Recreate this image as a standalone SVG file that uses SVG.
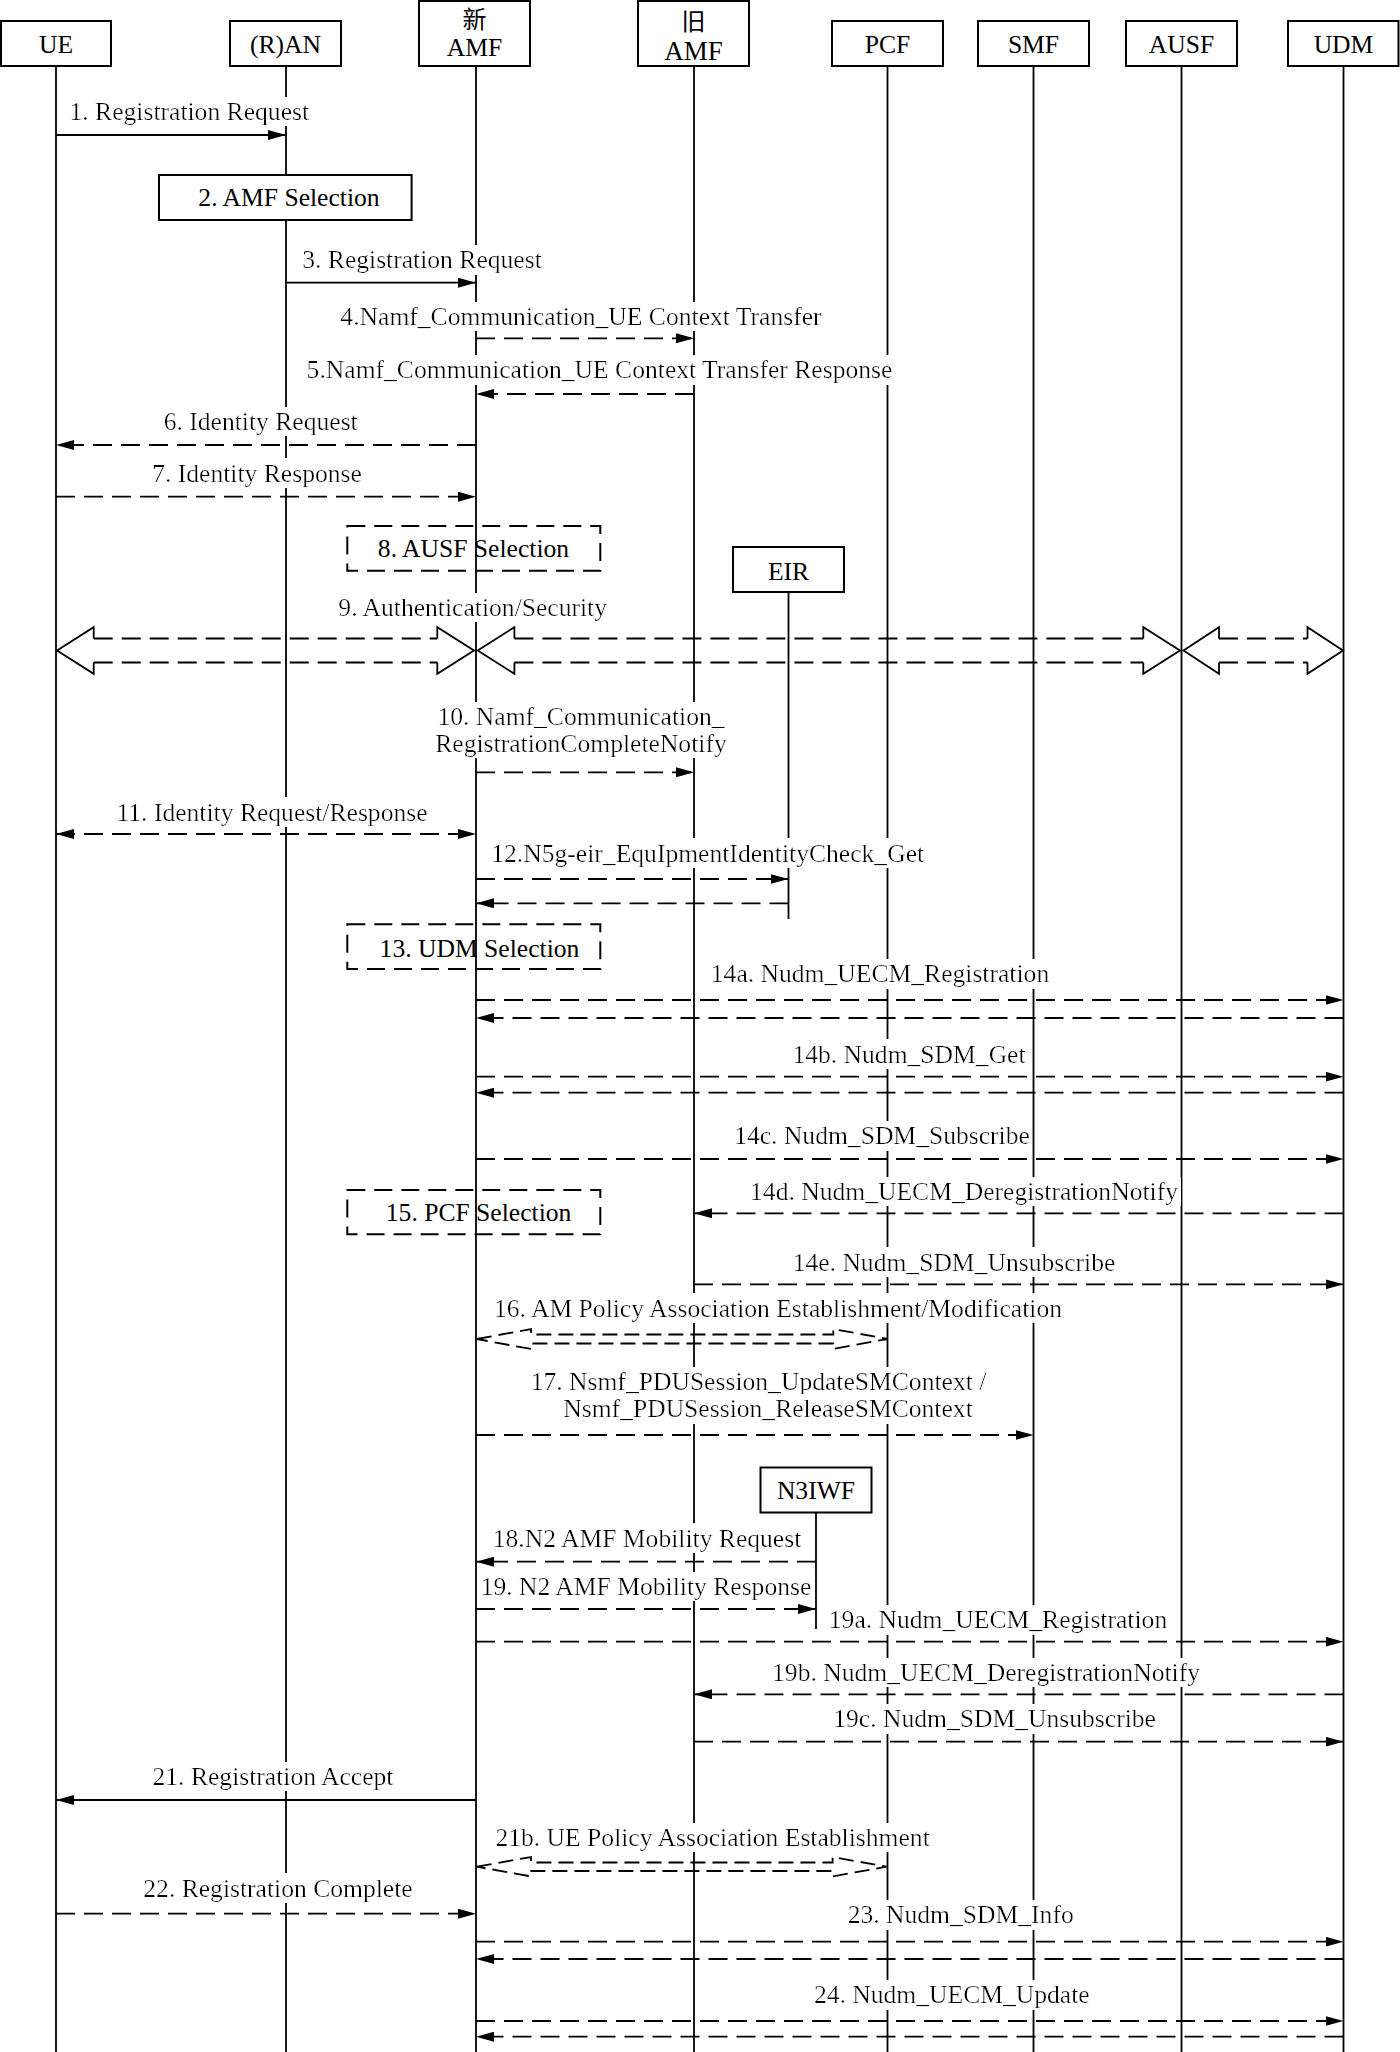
<svg xmlns="http://www.w3.org/2000/svg" width="1400" height="2052" viewBox="0 0 1400 2052">
<style>
.lf{stroke:#000;stroke-width:1.8;fill:none}
.box{fill:#fff;stroke:#000;stroke-width:2}
.dbox{fill:none;stroke:#000;stroke-width:2;stroke-dasharray:18 9}
.t{font-family:"Liberation Serif","Times New Roman",serif;font-size:25.6px;text-anchor:middle;fill:#000}
.cjk{font-family:"Liberation Serif","Noto Sans CJK SC",serif;font-size:24px;text-anchor:middle;fill:#000}
.lbl{filter:url(#bg)}
.m{stroke:#000;stroke-width:1.8;fill:none}
.e{marker-end:url(#ah)}
.s{marker-start:url(#ah)}
.d{stroke-dasharray:19 9}
.hd{stroke:#000;stroke-width:1.8;fill:none;stroke-linejoin:miter}
.blk{stroke:#000;stroke-width:1.8;fill:none;stroke-dasharray:19 9}
.blk2{stroke:#000;stroke-width:1.8;fill:none;stroke-dasharray:15 7}
</style>
<defs>
<filter id="bg" x="-0.005" y="0" width="1.01" height="1"><feFlood flood-color="#fff" result="f"/><feComposite in="SourceGraphic" in2="f" operator="over"/></filter>
<marker id="ah" viewBox="0 0 18 10" refX="18" refY="5" markerWidth="18" markerHeight="10" markerUnits="userSpaceOnUse" orient="auto-start-reverse"><path d="M0,0 L18,5 L0,10 Z" fill="#000"/></marker>
</defs>
<rect width="1400" height="2052" fill="#fff"/>

<g id="nodes">
<g id="node-UE"><line class="lf" x1="56" y1="66" x2="56" y2="2052"/><rect class="box" x="1" y="21" width="110" height="45"/><text class="t" x="56" y="53">UE</text></g>
<g id="node-RAN"><line class="lf" x1="286" y1="66" x2="286" y2="2052"/><rect class="box" x="230" y="21" width="111" height="45"/><text class="t" x="285.5" y="53">(R)AN</text></g>
<g id="node-newAMF"><line class="lf" x1="476" y1="66" x2="476" y2="2052"/><rect class="box" x="419" y="1" width="111" height="65"/><text class="cjk" x="474.5" y="28">新</text><text class="t" x="474.5" y="56">AMF</text></g>
<g id="node-oldAMF"><line class="lf" x1="694" y1="66" x2="694" y2="2052"/><rect class="box" x="638" y="1" width="111" height="65"/><text class="cjk" x="693.5" y="30">旧</text><text class="t" x="693.5" y="60" style="font-size:27px">AMF</text></g>
<g id="node-PCF"><line class="lf" x1="887.5" y1="66" x2="887.5" y2="2052"/><rect class="box" x="832" y="21" width="111" height="45"/><text class="t" x="887.5" y="53">PCF</text></g>
<g id="node-SMF"><line class="lf" x1="1033.5" y1="66" x2="1033.5" y2="2052"/><rect class="box" x="978" y="21" width="111" height="45"/><text class="t" x="1033.5" y="53">SMF</text></g>
<g id="node-AUSF"><line class="lf" x1="1181.5" y1="66" x2="1181.5" y2="2052"/><rect class="box" x="1126" y="21" width="111" height="45"/><text class="t" x="1181.5" y="53">AUSF</text></g>
<g id="node-UDM"><line class="lf" x1="1343.5" y1="66" x2="1343.5" y2="2052"/><rect class="box" x="1288" y="21" width="110.5" height="45"/><text class="t" x="1343.5" y="53">UDM</text></g>
<g id="node-EIR"><line class="lf" x1="788.5" y1="592" x2="788.5" y2="919"/><rect class="box" x="733" y="547" width="111" height="45"/><text class="t" x="788.5" y="580">EIR</text></g>
<g id="node-N3IWF"><line class="lf" x1="816" y1="1512" x2="816" y2="1629"/><rect class="box" x="760.5" y="1467.5" width="111" height="45"/><text class="t" x="816" y="1499.3">N3IWF</text></g>
<g id="step2-amf-selection"><rect class="box" x="159" y="175" width="252.6" height="45"/><text class="t" x="289" y="205.7">2. AMF  Selection</text></g>
<g id="step8-ausf-selection"><rect class="dbox" x="347.3" y="526" width="253" height="44.7"/><text class="t" x="473.5" y="556.7">8. AUSF Selection</text></g>
<g id="step13-udm-selection"><rect class="dbox" x="347.3" y="924.3" width="253" height="44.7"/><text class="t" x="479.5" y="956.7">13. UDM Selection</text></g>
<g id="step15-pcf-selection"><rect class="dbox" x="347.3" y="1190" width="253" height="44.3"/><text class="t" x="478.6" y="1220.7">15. PCF Selection</text></g>
</g>

<g id="connectors">
<g class="labels">
<text class="t lbl" x="189.3" y="120">1. Registration Request</text>
<text class="t lbl" x="422" y="268.3">3. Registration Request</text>
<text class="t lbl" x="581" y="325">4.Namf_Communication_UE Context Transfer</text>
<text class="t lbl" x="599.5" y="378.3">5.Namf_Communication_UE Context Transfer Response</text>
<text class="t lbl" x="260.7" y="430">6. Identity Request</text>
<text class="t lbl" x="257" y="481.7">7. Identity Response</text>
<text class="t lbl" x="472.7" y="616">9. Authentication/Security</text>
<text class="t lbl" x="581" y="725">10. Namf_Communication_</text>
<text class="t lbl" x="581" y="751.7">RegistrationCompleteNotify</text>
<text class="t lbl" x="272" y="820.7">11. Identity  Request/Response</text>
<text class="t lbl" x="707.7" y="861.7">12.N5g-eir_EquIpmentIdentityCheck_Get</text>
<text class="t lbl" x="880" y="982.3">14a. Nudm_UECM_Registration</text>
<text class="t lbl" x="909" y="1062.7">14b. Nudm_SDM_Get</text>
<text class="t lbl" x="882" y="1144.3">14c. Nudm_SDM_Subscribe</text>
<text class="t lbl" x="964" y="1200">14d. Nudm_UECM_DeregistrationNotify</text>
<text class="t lbl" x="954" y="1270.7">14e. Nudm_SDM_Unsubscribe</text>
<text class="t lbl" x="778" y="1316.7">16. AM Policy Association Establishment/Modification</text>
<text class="t lbl" x="758.5" y="1390">17. Nsmf_PDUSession_UpdateSMContext /</text>
<text class="t lbl" x="768" y="1417.3">Nsmf_PDUSession_ReleaseSMContext</text>
<text class="t lbl" x="647" y="1546.7">18.N2 AMF Mobility Request</text>
<text class="t lbl" x="646" y="1595">19. N2 AMF Mobility Response</text>
<text class="t lbl" x="998" y="1628.3">19a. Nudm_UECM_Registration</text>
<text class="t lbl" x="986" y="1681">19b. Nudm_UECM_DeregistrationNotify</text>
<text class="t lbl" x="994.6" y="1727.3">19c. Nudm_SDM_Unsubscribe</text>
<text class="t lbl" x="273" y="1785">21. Registration Accept</text>
<text class="t lbl" x="712.6" y="1846">21b. UE Policy Association Establishment</text>
<text class="t lbl" x="278" y="1896.7">22. Registration Complete</text>
<text class="t lbl" x="960.7" y="1923.3">23. Nudm_SDM_Info</text>
<text class="t lbl" x="951.8" y="2003.3">24. Nudm_UECM_Update</text>
</g>
<g class="arrows">
<line id="msg1" class="m e" x1="56" y1="135" x2="286" y2="135"/>
<line id="msg3" class="m e" x1="286" y1="282.7" x2="476" y2="282.7"/>
<line id="msg4" class="m d e" x1="476" y1="338.3" x2="694" y2="338.3"/>
<line id="msg5" class="m d e" x1="694" y1="394" x2="476" y2="394"/>
<line id="msg6" class="m d e" x1="476" y1="445" x2="56" y2="445"/>
<line id="msg7" class="m d e" x1="56" y1="496.7" x2="476" y2="496.7"/>
<g id="msg9a">
<path class="hd" d="M93.7,638.5 V627.2 L57,650.5 L93.7,673.8 V662.5"/>
<path class="hd" d="M437.3,638.5 V627.2 L474,650.5 L437.3,673.8 V662.5"/>
<path class="blk" d="M93.7,638.5 H437.3 M93.7,662.5 H437.3"/>
</g>
<g id="msg9b">
<path class="hd" d="M514.4,638.5 V627.2 L477.7,650.5 L514.4,673.8 V662.5"/>
<path class="hd" d="M1143.3,638.5 V627.2 L1180,650.5 L1143.3,673.8 V662.5"/>
<path class="blk" d="M514.4,638.5 H1143.3 M514.4,662.5 H1143.3"/>
</g>
<g id="msg9c">
<path class="hd" d="M1219,638.5 V627.2 L1183.5,650.5 L1219,673.8 V662.5"/>
<path class="hd" d="M1307.5,638.5 V627.2 L1343,650.5 L1307.5,673.8 V662.5"/>
<path class="blk" d="M1219,638.5 H1307.5 M1219,662.5 H1307.5"/>
</g>
<line id="msg10" class="m d e" x1="476" y1="772.3" x2="694" y2="772.3"/>
<line id="msg11" class="m d s e" x1="56" y1="834" x2="476" y2="834"/>
<line id="msg12a" class="m d e" x1="476" y1="879" x2="788.5" y2="879"/>
<line id="msg12b" class="m d e" x1="788.5" y1="903.3" x2="476" y2="903.3"/>
<line id="msg14a1" class="m d e" x1="476" y1="1000" x2="1343.5" y2="1000"/>
<line id="msg14a2" class="m d e" x1="1343.5" y1="1018" x2="476" y2="1018"/>
<line id="msg14b1" class="m d e" x1="476" y1="1076.7" x2="1343.5" y2="1076.7"/>
<line id="msg14b2" class="m d e" x1="1343.5" y1="1092.7" x2="476" y2="1092.7"/>
<line id="msg14c" class="m d e" x1="476" y1="1159" x2="1343.5" y2="1159"/>
<line id="msg14d" class="m d e" x1="1343.5" y1="1213.3" x2="694" y2="1213.3"/>
<line id="msg14e" class="m d e" x1="694" y1="1284.3" x2="1343.5" y2="1284.3"/>
<path id="msg16" class="blk2" d="M476.8,1339 L531,1329 L531,1334.5 L833.3,1334.5 L833.3,1329 L887.5,1339 L833.3,1349 L833.3,1343.5 L531,1343.5 L531,1349 Z"/>
<line id="msg17" class="m d e" x1="476" y1="1435" x2="1033.5" y2="1435"/>
<line id="msg18" class="m d e" x1="816" y1="1561.7" x2="476" y2="1561.7"/>
<line id="msg19" class="m d e" x1="476" y1="1609" x2="816" y2="1609"/>
<line id="msg19a" class="m d e" x1="476" y1="1641.7" x2="1343.5" y2="1641.7"/>
<line id="msg19b" class="m d e" x1="1343.5" y1="1694.3" x2="694" y2="1694.3"/>
<line id="msg19c" class="m d e" x1="694" y1="1741.7" x2="1343.5" y2="1741.7"/>
<line id="msg21" class="m e" x1="476" y1="1800" x2="56" y2="1800"/>
<path id="msg21b" class="blk2" d="M476.8,1866.7 L531,1857 L531,1862.5 L832.6,1862.5 L832.6,1857 L886.6,1866.7 L832.6,1876.4 L832.6,1871 L531,1871 L531,1876.4 Z"/>
<line id="msg22" class="m d e" x1="56" y1="1913.7" x2="476" y2="1913.7"/>
<line id="msg23a" class="m d e" x1="476" y1="1941.7" x2="1343.5" y2="1941.7"/>
<line id="msg23b" class="m d e" x1="1343.5" y1="1959" x2="476" y2="1959"/>
<line id="msg24a" class="m d e" x1="476" y1="2021" x2="1343.5" y2="2021"/>
<line id="msg24b" class="m d e" x1="1343.5" y1="2036.7" x2="476" y2="2036.7"/>
</g>
</g>
</svg>
